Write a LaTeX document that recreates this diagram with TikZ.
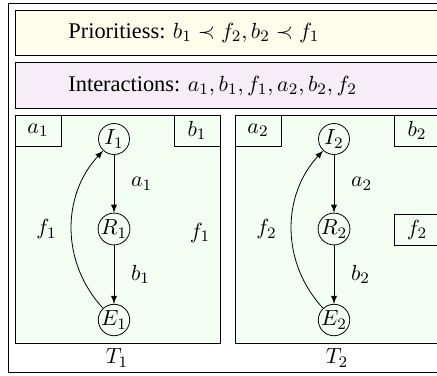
\documentclass[tikz,border=0pt]{standalone}
\usepackage[no-math]{fontspec}
\setmainfont{Liberation Serif}
\usepackage{amsmath,amssymb}
\usetikzlibrary{positioning, arrows, calc}

\begin{document}
\begin{tikzpicture}[
    % one unit is one pixel of the layout, y grows downwards
    x=0.5pt, y=-0.5pt,
    every node/.style={font=\fontsize{11.2pt}{13.5pt}\selectfont},
    % Define the style for the states
    state/.style={circle, draw, inner sep=0pt, minimum size=15.5pt},
    % Define the style for the port boxes
    port/.style={rectangle, draw, fill=green!5, inner sep=0pt,
                 minimum width=23pt, minimum height=15.5pt},
    % Define the style for the bands and frames
    frame/.style={draw, thin},
    >=latex
]

    \useasboundingbox (0,0) rectangle (437,375);

    % --- Outer frame ---
    \draw[frame] (8,3) rectangle (447,372);

    % --- Priorities and interactions ---
    \draw[frame, fill=yellow!7] (15,10) rectangle (440,55);
    \node[anchor=west, inner sep=0pt] (prio) at (68,33)
        {Prioritiess: $b_1 \prec f_2, b_2 \prec f_1$};

    \draw[frame, fill=violet!7] (15,62) rectangle (440,108);
    \node[anchor=west, inner sep=0pt] (inter) at (68,86)
        {Interactions: $a_1, b_1, f_1, a_2, b_2, f_2$};

    % --- The two components ---
    % Both have the same shape, the second one is shifted to the right.
    \foreach \i in {1,2} {
        \begin{scope}[xshift={(\i-1)*110pt}]
            \draw[frame, fill=green!5] (15,115) rectangle (220,343);
            \node[port] (a\i) at (38,130.5) {$a_\i$};
            \node[port] (b\i) at (197,130.5) {$b_\i$};

            \node[state] (I\i) at (114,139) {$I_\i$};
            \node[state] (R\i) at (114,229) {$R_\i$};
            \node[state] (E\i) at (114,320) {$E_\i$};

            \draw[->] (I\i) -- node[midway, right=5pt] {$a_\i$} (R\i);
            \draw[->] (R\i) -- node[midway, right=5pt] {$b_\i$} (E\i);
            \draw[->] (E\i) to[bend left=43] node[midway, left=4pt] (lf\i) {$f_\i$} (I\i);

            \node (T\i) at (117,358) {$T_\i$};
        \end{scope}
    }

    % --- The port f differs: plain in T1, boxed in T2 ---
    \node (f1) at (200,233) {$f_1$};
    \node[port] (f2) at (417,230) {$f_2$};

\end{tikzpicture}
\end{document}
